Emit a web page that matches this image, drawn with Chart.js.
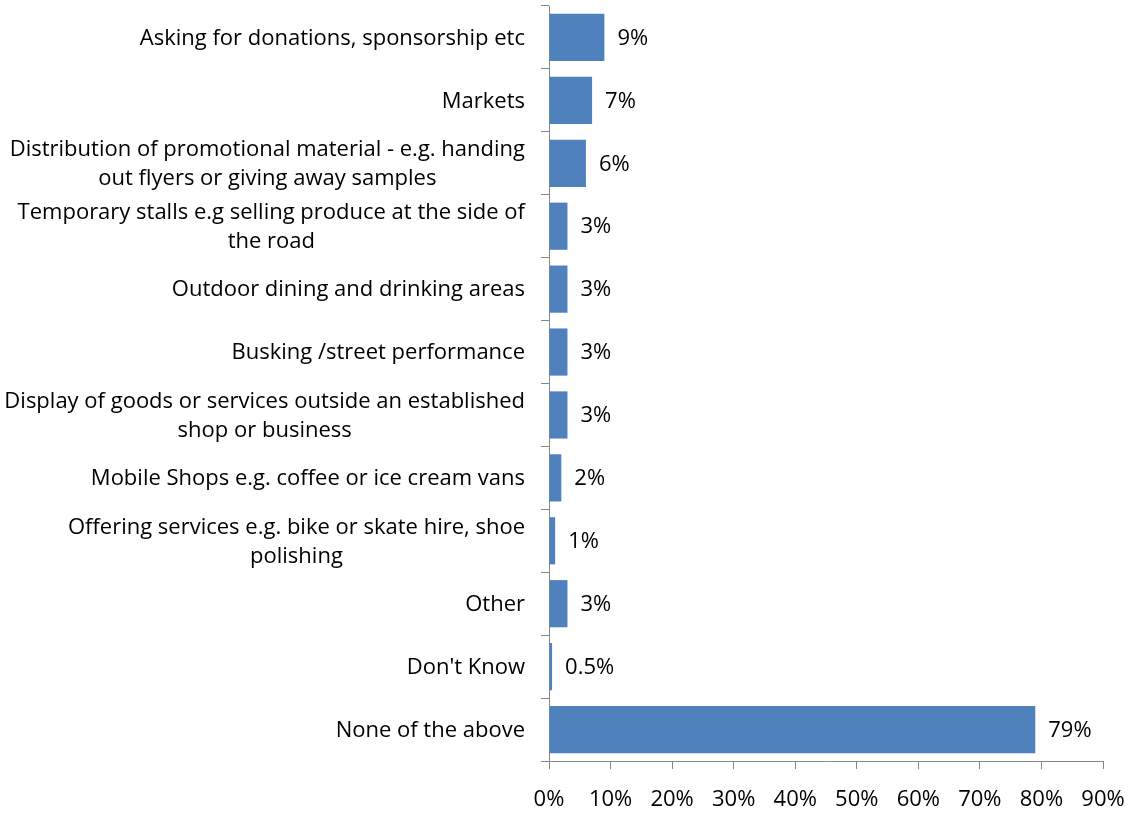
<!DOCTYPE html>
<html>
<head>
<meta charset="utf-8">
<script src="https://cdn.jsdelivr.net/npm/chart.js@4"></script>
<style>
  html, body { margin: 0; padding: 0; background: #fff; }
  #wrap { width: 1132px; height: 815px; position: relative; }
</style>
</head>
<body>
<div id="wrap"><canvas id="chart"></canvas></div>
<script>
// Street trading activities - share of respondents (horizontal bars).
const categories = [
  ['Asking for donations, sponsorship etc'],
  ['Markets'],
  ['Distribution of promotional material - e.g. handing', 'out flyers or giving away samples'],
  ['Temporary stalls e.g selling produce at the side of', 'the road'],
  ['Outdoor dining and drinking areas'],
  ['Busking /street performance'],
  ['Display of goods or services outside an established', 'shop or business'],
  ['Mobile Shops e.g. coffee or ice cream vans'],
  ['Offering services e.g. bike or skate hire, shoe', 'polishing'],
  ['Other'],
  ["Don't Know"],
  ['None of the above'],
];
const values = [9, 7, 6, 3, 3, 3, 3, 2, 1, 3, 0.5, 79];
const xMax = 90;
const xStep = 10;

const FONT = '"Open Sans", Lato, sans-serif';
const SIZE = 22;
const AXIS = '#878787';
const BAR = '#4F81BD';

// wrapped category labels: block right-aligned to the axis, lines centred inside it
const catLabels = {
  id: 'catLabels',
  afterDraw(chart) {
    const { ctx } = chart;
    const y = chart.scales.y;
    ctx.save();
    ctx.font = `${SIZE}px ${FONT}`;
    ctx.fillStyle = '#000';
    ctx.textAlign = 'center';
    ctx.textBaseline = 'middle';
    categories.forEach((lines, i) => {
      const cy = y.getPixelForValue(i) + 1;
      const w = Math.max(...lines.map((l) => ctx.measureText(l).width));
      const cx = y.right - 24 - w / 2;
      lines.forEach((l, j) => ctx.fillText(l, cx, cy + (j - (lines.length - 1) / 2) * 29));
    });
    ctx.restore();
  },
};

// value labels just past the end of each bar
const valueLabels = {
  id: 'valueLabels',
  afterDatasetsDraw(chart) {
    const { ctx } = chart;
    const meta = chart.getDatasetMeta(0);
    ctx.save();
    ctx.font = `${SIZE}px ${FONT}`;
    ctx.fillStyle = '#000';
    ctx.textAlign = 'left';
    ctx.textBaseline = 'middle';
    meta.data.forEach((bar, i) => ctx.fillText(values[i] + '%', bar.x + 13, bar.y + 1));
    ctx.restore();
  },
};

new Chart(document.getElementById('chart'), {
  type: 'bar',
  data: {
    labels: categories.map((l) => l.join(' ')),
    datasets: [{ data: values, backgroundColor: BAR, borderWidth: 0, barPercentage: 0.75, categoryPercentage: 1 }],
  },
  options: {
    indexAxis: 'y',
    responsive: true,
    maintainAspectRatio: false,
    animation: false,
    layout: { padding: { top: 6, right: 29, bottom: 0, left: 0 } },
    plugins: { legend: { display: false }, tooltip: { enabled: false } },
    scales: {
      x: {
        min: 0, max: xMax,
        ticks: { stepSize: xStep, callback: (v) => v + '%', color: '#000', font: { family: FONT, size: SIZE }, padding: 18, maxRotation: 0 },
        grid: { drawOnChartArea: false, tickLength: 8, color: AXIS },
        border: { color: AXIS },
        afterFit(s) { s.height = 54; s.paddingLeft = 0; s.paddingRight = 0; },
      },
      y: {
        ticks: { display: false },
        grid: { drawOnChartArea: false, tickLength: 8, color: AXIS, offset: true },
        border: { color: AXIS },
        afterFit(s) { s.width = 549; },
      },
    },
  },
  plugins: [catLabels, valueLabels],
});
</script>
</body>
</html>
